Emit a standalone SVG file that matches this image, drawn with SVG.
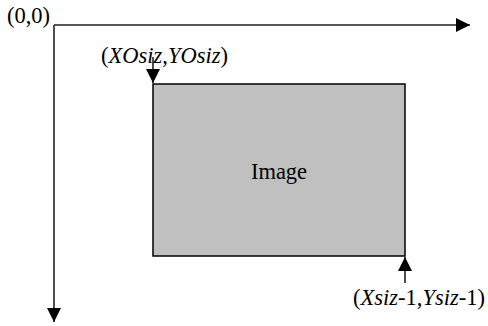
<svg xmlns="http://www.w3.org/2000/svg" width="488" height="326" viewBox="0 0 488 326">
<style>
text{font-family:'Liberation Serif','Times New Roman',Times,serif;font-size:22.5px;fill:#000}
.ax{stroke:#222;stroke-width:1.6;fill:none}
</style>
<defs>
<marker id="ah" viewBox="0 0 14 14" refX="14" refY="7" markerWidth="14" markerHeight="14" markerUnits="userSpaceOnUse" orient="auto">
<path d="M0,0 L14,7 L0,14 Z" fill="#000"/>
</marker>
</defs>
<g id="connectors">
<path class="ax" d="M54,25 H470" marker-end="url(#ah)"/>
<path class="ax" d="M54,25 V322" marker-end="url(#ah)"/>
<path class="ax" d="M153,57 V83" marker-end="url(#ah)"/>
<path class="ax" d="M405,283 V257" marker-end="url(#ah)"/>
</g>
<g id="image">
<rect x="153" y="84" width="252" height="172" fill="#c0c0c0" stroke="#000" stroke-width="1.5"/>
<text x="279" y="179" text-anchor="middle" font-family="Liberation Serif">Image</text>
</g>
<g id="origin">
<text x="7" y="23" font-family="Liberation Serif">(0,0)</text>
</g>
<g id="offset">
<text x="101" y="63" font-family="Liberation Serif">(<tspan font-style="italic">XOsiz</tspan>,<tspan font-style="italic">YOsiz</tspan>)</text>
</g>
<g id="extent">
<text x="353" y="305" font-family="Liberation Serif">(<tspan font-style="italic">Xsiz</tspan>-1,<tspan font-style="italic">Ysiz</tspan>-1)</text>
</g>
</svg>
